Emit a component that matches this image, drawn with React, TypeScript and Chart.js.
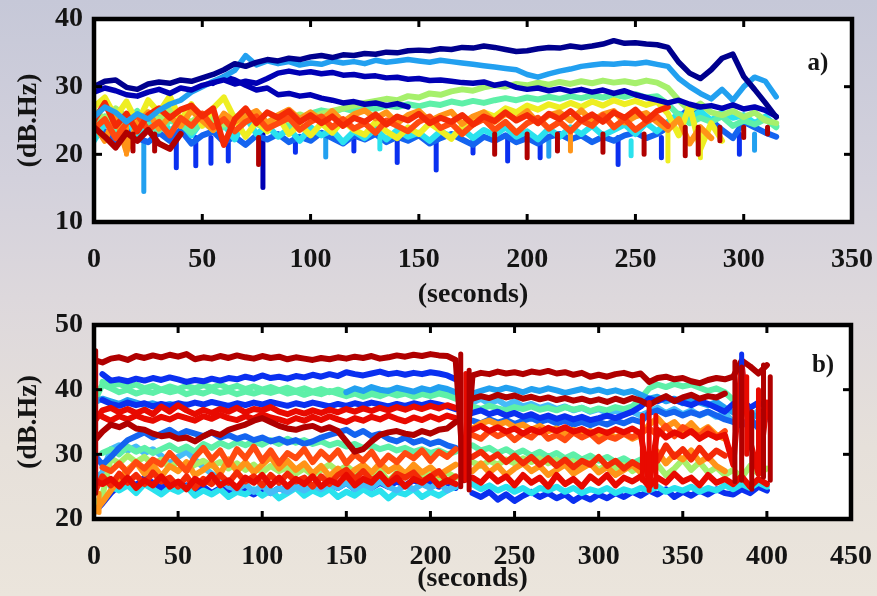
import React, { useEffect, useRef } from "react";
import { Chart, registerables } from "chart.js";

Chart.register(...registerables);

// ---------- Panel a) data (seconds sampled every 5 s, dB.Hz) ----------
const STEP = 5;
const aTicksX = [0, 50, 100, 150, 200, 250, 300, 350];
const aTicksY = [10, 20, 30, 40];

const a1 = [30.0,30.8,31.0,29.9,29.6,30.4,30.7,30.5,31.0,30.8,
  31.3,31.8,32.5,33.4,33.0,33.6,34.0,33.8,34.2,34.0,
  34.4,34.6,34.3,34.7,34.6,34.9,34.8,35.1,35.0,35.3,
  35.4,35.3,35.6,35.5,35.8,35.7,36.0,35.8,35.5,35.2,
  35.3,35.6,35.8,35.7,36.0,35.8,36.0,36.3,36.8,36.4,
  36.5,36.3,36.2,35.8,33.6,32.0,31.2,32.5,34.2,34.8,
  31.5,29.6,27.6,25.5];
const a2 = [25.5,27.0,26.2,24.8,26.0,25.2,26.5,27.4,28.0,29.2,
  30.0,30.8,31.5,32.4,34.6,33.2,33.8,33.4,33.7,33.2,
  33.5,33.3,33.8,33.5,33.7,33.4,33.9,33.6,33.8,34.0,
  33.8,33.6,33.9,33.7,33.5,33.3,33.1,32.9,32.7,32.5,
  31.8,31.4,31.9,32.3,32.6,33.0,33.2,33.4,33.3,33.5,
  33.4,33.6,33.3,33.0,31.2,30.0,29.0,28.2,29.6,28.0,
  30.0,31.4,30.8,28.5];
const a3 = [29.2,29.8,29.4,28.8,28.6,29.2,29.6,29.0,29.8,29.5,
  30.2,30.6,31.0,30.4,30.8,30.5,31.2,32.0,32.3,32.0,
  32.2,31.9,32.1,31.7,31.8,31.5,31.6,31.3,31.4,31.1,
  31.2,30.9,31.0,30.8,30.6,30.5,30.7,30.2,30.5,29.9,
  29.6,29.8,29.4,29.7,29.3,29.6,29.2,29.5,29.0,29.4,
  28.8,28.4,28.0,27.6,28.0,27.4,27.0,27.2,26.8,27.3,
  26.7,27.0,26.5,25.6];
const a4Start = 55;
const a4 = [30.5,31.5,31.0,30.2,29.5,29.8,28.8,29.0,28.6,28.8,
  28.3,28.0,27.6,27.8,27.4,27.6,27.2,27.5,27.0];
const a5 = [26.5,25.2,26.8,25.5,24.6,26.2,25.0,26.6,25.4,24.8,
  26.0,25.1,24.4,25.6,24.9,25.8,24.7,25.5,25.0,25.9,
  25.3,26.0,26.4,26.8,27.2,27.6,27.9,28.2,28.0,28.6,
  28.4,29.0,28.8,29.3,29.6,29.4,29.9,30.2,30.0,30.4,
  30.2,30.6,30.3,30.7,30.4,30.8,30.5,30.9,30.6,30.8,
  30.5,30.9,30.6,29.8,28.0,26.5,27.5,26.2,25.8,26.4,
  25.5,26.2,25.0,24.6];
const a6 = [24.0,25.6,23.8,24.9,26.4,24.2,23.5,25.0,24.4,23.2,
  24.8,25.6,24.0,25.2,26.6,24.5,23.8,25.0,24.2,25.4,
  26.0,26.5,26.2,26.8,26.4,27.0,26.7,27.2,27.0,27.4,
  27.1,27.5,27.3,27.8,27.5,27.9,27.6,28.0,28.3,28.0,
  28.4,28.1,28.5,28.2,28.6,28.3,28.7,28.4,28.8,28.5,
  28.9,28.4,28.6,27.4,25.8,24.6,25.4,24.8,25.6,24.2,
  25.0,24.4,25.2,24.0];
const a7 = [27.0,28.4,25.5,27.8,24.6,28.0,26.2,28.6,25.0,27.4,
  24.2,26.8,28.4,25.2,22.6,24.8,23.4,25.6,23.0,24.4,
  22.8,24.6,23.2,25.0,23.6,22.9,24.8,23.4,22.4,24.0,
  23.0,24.6,23.5,22.3,24.2,25.4,26.2,25.6,26.8,26.2,
  27.2,26.6,27.4,26.9,27.6,27.0,27.8,27.2,28.0,27.4,
  27.9,27.3,27.8,26.0,22.8,27.2,20.8,24.6,22.0];
const a8 = [24.5,22.0,25.8,20.4,24.6,26.2,23.8,25.6,24.2,26.5,
  25.0,23.6,26.0,24.8,25.6,26.4,24.6,25.8,26.6,25.2,
  26.2,25.0,26.4,24.8,25.9,26.5,25.3,26.2,24.6,25.8,
  26.4,24.9,25.7,26.3,24.5,25.6,26.2,24.8,26.0,25.2,
  26.4,24.6,25.8,26.2,25.0,26.5,24.9,25.9,26.4,24.7,
  25.6,26.1,24.8,23.6,25.2,21.6,24.0,22.4];
const a9 = [25.0,27.6,24.2,26.0,23.4,25.8,26.8,25.4,26.6,27.2,
  25.6,26.8,21.4,25.2,26.8,24.6,26.2,25.4,26.4,24.8,
  25.8,24.6,25.6,24.2,25.4,24.8,25.9,24.4,25.6,25.0,
  26.0,24.6,25.4,24.8,25.8,24.4,25.6,24.9,26.2,25.0,
  25.8,24.6,26.0,25.2,26.4,25.0,25.9,24.8,26.2,25.4,
  26.6,25.0,26.4,27.0];
const a10 = [23.8,25.2,22.4,24.6,25.8,23.6,24.8,22.8,25.4,24.2,
  26.0,24.0,25.2,23.4,24.8,25.6,23.8,24.6,25.4,23.6,
  24.8,25.6,24.0,25.2,23.8,24.6,23.2,25.0,24.2,23.4,
  24.8,25.6,23.9,24.6,23.0,24.4,25.2,23.6,24.8,23.2,
  24.6,25.4,23.8,24.8,23.4,25.0,24.2,25.8,24.0,25.2,
  23.6,24.8,25.6,24.2];
const a11 = [22.0,24.6,23.2,25.4,22.6,24.0,26.0,23.4,24.8,22.8,
  25.0,23.6,24.4,22.2,25.6,23.0,24.2,22.6,23.8,22.0,
  24.0,22.8,23.6,21.8,23.4,22.4,23.8,22.2,23.6,22.6,
  23.2,22.0,23.4,22.6,23.8,22.4,23.6,22.8,24.0,22.6,
  23.4,22.2,23.8,22.6,24.0,23.0,24.2,22.8,23.6,24.4,
  23.0,24.6,23.4,24.8,26.0,25.2,26.4,25.0,26.2,25.4,
  25.8,24.6,25.6,24.2];
const a12 = [22.6,23.4,22.0,23.8,22.4,21.8,23.2,22.0,23.6,21.6,
  22.8,23.4,21.8,22.6,21.4,22.8,22.2,23.0,21.8,22.6,
  22.0,23.2,22.4,21.6,22.8,22.2,23.0,21.8,22.6,22.0,
  22.8,21.6,22.4,23.0,22.2,21.4,22.6,22.0,22.8,21.8,
  22.4,21.6,22.6,23.0,22.2,22.8,21.8,22.6,22.0,22.8,
  23.2,22.4,23.0,24.0,25.4,26.8,26.0,25.0,23.6,22.4,
  24.8,24.0,23.2,22.6];
const a13 = [24.0,22.6,21.0,23.2,22.0,23.6,21.6,20.8,23.0];

// dropouts: [seconds, from dB.Hz, to dB.Hz]
const aDropBlue = [[38,22.5,18.0],[47,22.5,18.3],[54,22.5,18.7],[62,22.0,19.0],[93,22.5,20.3],[120,22.4,20.5],[140,22.5,18.8],[158,22.5,17.7],[175,22.4,20.2],[191,22.5,19.0],[206,22.5,19.5],[242,22.5,18.5],[262,22.5,19.5],[298,23.0,20.0]];
const aDropNavy = [[78,23.0,15.1]];
const aDropSky = [[23,22.0,14.5],[107,22.5,19.6],[210,22.5,19.7],[305,23.0,20.6]];
const aDropCyan = [[248,22.0,19.8],[132,22.5,20.8]];
const aDropDark = [[18,23.0,20.5],[28,23.0,20.5],[76,22.5,18.5],[185,23.0,20.0],[200,23.0,19.5],[214,23.0,20.5],[235,23.0,20.3],[254,23.0,20.0],[273,24.0,19.8],[279,24.0,20.0],[289,24.0,22.0],[300,24.0,22.5],[311,24.0,23.0]];
const aDropOrange = [[15,24.0,20.0],[220,23.5,20.5]];
const aDropYellow = [[265,24.0,19.0],[280,24.0,19.5]];

// ---------- Panel b) data ----------
const bTicksX = [0, 50, 100, 150, 200, 250, 300, 350, 400, 450];
const bTicksY = [20, 30, 40, 50];

const b1 = [44.6,44.2,44.8,45.0,44.6,45.2,44.9,45.3,45.0,45.4,
  45.1,45.5,44.7,45.0,44.8,45.2,44.9,45.3,45.0,44.8,
  45.2,44.9,45.1,44.7,45.0,44.8,44.6,44.9,44.7,45.0,
  44.8,45.1,44.9,45.2,44.8,45.0,45.3,45.1,45.4,45.2,
  45.5,45.3,45.2,44.6,26.0,42.2,42.6,42.4,42.8,42.5,
  42.7,42.4,42.8,42.6,42.9,42.5,42.7,42.3,42.6,42.0,
  42.3,42.0,42.4,42.6,42.2,42.5,41.2,41.8,42.0,41.6,
  41.8,41.3,41.0,41.5,41.8,41.6,42.0,44.5,43.6,42.5,
  43.8];
const b2Start = 5;
const b2 = [42.4,41.4,41.6,41.3,41.7,41.4,41.8,41.5,41.9,
  41.6,41.2,41.5,41.3,41.7,41.4,41.8,41.6,42.0,41.7,
  42.2,41.8,42.0,41.7,42.1,41.9,42.3,42.0,42.4,42.1,
  42.7,42.4,42.2,42.5,42.8,42.4,42.6,42.3,42.6,42.4,
  42.7,42.5,42.2,41.6];
const b3 = [38.0,38.6,38.2,37.8,38.4,38.0,37.6,37.9,37.5,37.8,
  37.4,37.7,null,null,null,null,null,null,null,null,
  null,null,null,null,null,null,null,null,null,null,
  39.6,40.2,39.8,40.4,40.0,39.8,40.3,40.0,39.7,40.2,
  39.9,40.4,40.1,39.6,null,39.4,39.8,40.2,39.9,40.3,
  40.0,39.6,40.1,39.8,40.2,39.9,39.5,39.8,40.1,39.7,
  40.0,39.6,39.9,39.5,39.8,39.2,38.6,38.9,38.2,38.6,
  37.9,38.4,38.0,37.6,38.1,37.2,36.5,37.0,36.2,35.8,
  36.4];
const b4 = [38.0,40.8,40.2,39.6,40.0,39.4,39.8,39.5,40.0,39.6,
  39.9,39.3,39.7,39.4,39.9,39.5,39.8,39.3,39.7,39.4,
  39.8,39.5,39.9,39.4,39.7,39.2,39.6,39.3,39.8,39.4,
  39.0,39.4,38.9,39.3,39.0,39.5,39.1,39.4,38.9,39.3,
  39.0,39.4,39.1,38.6,null,37.4,37.0,37.5,37.1,36.8,
  37.3,37.0,37.4,36.9,37.2,36.8,37.3,36.9,37.2,36.7,
  37.1,36.8,37.3,37.0,37.4,38.6,40.2,40.8,40.4,40.9,
  40.5,40.8,40.3,39.8,40.2,39.6,38.4];
const b4bStart = 5;
const b4b = [41.2,40.6,40.9,40.4,40.8,40.2,40.6,40.0,40.5,
  40.1,40.6,40.2,40.7,40.3,40.8,40.2,40.6,40.1,40.5,
  40.0,40.4,39.9,40.3,39.8,40.2,39.7,40.1,39.6,40.0,
  39.5,39.9,39.4,39.8,39.5,39.9,39.4,39.8,39.3,39.7,
  39.4,39.8,39.2,38.8];
const b5Start = 5;
const b5 = [38.4,37.8,37.5,38.0,37.6,37.9,37.4,37.8,37.5,
  37.9,37.6,38.0,37.7,38.1,37.8,37.5,37.9,37.6,38.0,
  37.7,38.1,37.8,37.5,37.9,37.6,38.0,37.7,37.4,37.8,
  37.5,37.9,37.6,38.0,37.7,37.4,37.8,37.5,37.9,37.6,
  38.0,37.7,37.4,37.0,null,36.4,36.8,36.2,36.6,36.0,
  36.4,35.8,36.2,35.6,36.0,35.5,35.9,35.4,35.8,35.3,
  35.6,36.0,35.6,36.1,36.6,37.4,38.6,38.2,38.8,38.4,
  38.0,37.6,38.2,37.8,37.2,36.6,37.8,38.4,37.2,38.0,
  37.4];
const b6 = [35.0,36.8,37.2,36.5,37.0,36.4,36.9,36.2,37.4,36.6,
  37.6,36.8,36.2,36.9,36.4,37.0,36.6,37.2,36.5,37.0,
  36.8,37.3,36.6,36.2,36.7,36.3,36.8,36.4,36.9,36.5,
  37.0,36.6,37.1,36.7,37.2,36.8,37.3,36.9,37.4,37.0,
  37.5,37.1,37.6,37.2,null,33.8,34.4,33.6,34.2,33.5,
  34.0,33.2,33.9,33.4,34.1,33.6,34.2,33.5,33.9,33.2,
  33.8,33.3,33.9,33.4,34.0,33.2,25.5,33.8,32.6,33.4,
  32.8,33.6,32.4,33.2,32.6,33.0,28.4,44.0,32.0,27.0,
  38.0];
const b6bStart = 5;
const b6b = [35.8,35.2,35.9,35.4,36.0,35.5,35.2,35.8,35.4,
  36.0,35.6,35.2,35.9,35.5,36.1,35.6,35.3,35.9,35.5,
  36.2,35.7,35.4,35.0,35.6,35.2,35.8,35.3,35.9,35.4,
  35.0,35.6,35.2,35.8,35.4,36.0,35.5,35.1,35.7,35.3,
  35.9,35.4,36.0,35.6];
const b7 = [32.0,33.5,34.6,34.2,34.8,34.0,33.8,33.2,32.8,33.0,
  32.4,32.6,32.0,32.8,33.4,33.0,33.8,34.2,34.6,35.2,
  35.6,35.0,34.4,34.0,33.8,34.2,34.4,33.8,34.2,33.6,
  32.0,30.4,30.8,32.0,33.0,33.4,33.6,33.2,33.0,33.6,
  33.2,33.8,34.0,35.0,null,38.6,39.0,38.7,39.2,38.8,
  39.1,38.6,38.9,38.5,38.8,38.4,38.7,38.3,38.6,38.2,
  38.5,38.1,38.6,38.2,38.7,38.3,37.6,38.4,39.0,38.2,
  38.8,39.2,38.6,39.0,38.8,39.4];
const b8 = [30.0,28.4,29.6,31.0,32.2,32.8,33.4,32.6,33.2,33.8,
  33.0,33.6,33.2,32.8,33.4,32.6,33.0,32.4,32.8,32.2,
  32.6,32.0,32.4,31.8,32.2,31.6,32.0,32.6,33.0,33.4,
  33.8,33.0,33.6,32.8,33.2,32.4,32.0,32.6,31.8,32.2,
  31.6,32.0,31.4,31.0,null,35.2,34.8,35.4,34.9,35.3,
  34.7,35.2,35.6,35.0,35.4,34.8,35.2,34.6,35.0,34.5,
  35.0,34.6,35.2,34.8,35.4,35.0,36.4,36.8,36.2,36.6,
  36.0,36.5,36.1,36.6,36.0,35.4,35.0,34.4,35.6,34.0,
  36.0];
const b9Start = 5;
const b9 = [30.2,30.8,30.0,31.2,30.4,31.0,30.2,30.8,31.4,
  30.6,31.2,30.4,31.6,31.0,31.8,31.2,31.9,31.4,32.0,
  31.5,32.2,31.6,32.4,31.8,32.2,31.6,32.0,31.4,31.8,
  31.2,31.6,31.0,31.4,30.8,31.2,30.6,31.0,30.4,30.8,
  30.2,30.6,30.0,30.4,null,31.4,30.6,31.0,30.2,30.8,
  30.0,30.6,29.8,30.4,29.6,30.2,29.4,30.0,29.2,29.8,
  29.0,29.6,28.8,29.4,28.6,29.2];
const b10 = [22.0,23.6,29.4,28.6,29.8,28.8,29.6,28.4,29.2,28.0,
  28.8,27.6,28.4,29.0,28.2,28.8,27.8,28.6,27.6,28.4,
  27.2,28.2,27.4,28.0,27.0,27.8,26.8,27.6,28.4,27.4,
  28.2,27.2,28.0,26.6,27.6,25.8,27.2,26.4,27.4,26.2,
  27.0,26.0,27.2,26.4,null,28.8,28.2,29.0,28.4,29.2,
  28.6,29.4,28.8,29.6,28.6,29.2,28.4,29.0,28.2,28.8,
  27.6,28.4,27.8,28.6,27.4,28.2,27.0,28.4,26.8,27.8,
  29.2,27.6,28.8,27.2,28.0,26.8,27.6,26.4,28.2,27.0,
  27.8];
const b11 = [26.0,27.2,30.8,31.4,30.6,31.2,30.2,30.8,29.8,28.6,
  29.6,30.4,29.2,28.0,27.0,26.2,25.0,24.6,25.4,24.2,
  25.2,24.0,24.8,24.2,25.0,24.4,25.2,24.6,25.4,24.8,
  25.6,24.6,25.4,24.8,25.8,25.0,24.4,25.2,24.6,25.4,
  24.8,25.6,24.4,25.2,null,38.0,38.6,37.8,38.4,37.6,
  38.2,37.4,37.8,37.2,37.6,37.0,37.4,36.8,37.2,36.6,
  37.0,36.4,36.8,36.2,36.6,36.0,36.6,37.2,36.4,37.0,
  36.2,36.8,36.0,36.6,35.8,36.4,35.0,37.0,35.6,36.8,
  35.4];
const b12Start = 5;
const b12 = [28.0,27.4,28.6,27.2,28.8,27.8,29.2,28.4,30.2,
  28.8,27.4,29.6,31.0,29.2,30.6,28.4,30.8,29.4,31.2,
  29.0,30.6,28.6,30.2,29.4,30.8,28.8,30.4,29.2,30.6,
  28.6,30.0,29.0,30.4,28.4,29.8,28.8,30.2,29.4,30.6,
  29.0,30.4,29.6,30.8,null,33.0,32.4,33.6,32.8,33.4,
  32.2,33.2,32.6,33.8,32.4,33.0,32.2,33.4,32.6,33.2,
  32.0,32.8,32.4,33.2,32.6,33.4,34.0,33.0,34.4,32.8,
  34.2,33.4,32.8,34.0,32.6,33.6];
const b13 = [21.0,22.6,24.4,26.2,27.6,28.8,27.0,28.4,26.6,28.2,
  27.4,28.8,26.8,27.6,28.6,27.0,29.2,27.4,28.8,27.2,
  28.4,29.6,27.8,29.0,27.6,28.6,27.0,28.2,26.6,27.8,
  26.4,27.6,28.4,27.2,28.6,27.4,28.2,27.0,28.4,27.2,
  28.0,26.8,27.6,28.4,null,34.0,34.8,35.2,34.6,35.0,
  34.2,34.6,33.8,34.4,33.6,34.0,33.2,33.8,33.0,33.6,
  32.8,33.4,32.6,33.2,32.4,33.0,34.6,35.6,34.2,35.0,
  33.6,34.8,33.4,34.2,33.0,32.4];
const b14Start = 225;
const b14 = [27.4,28.6,27.2,28.2,26.8,27.8,28.6,27.4,28.2,26.8,
  27.6,28.4,27.0,27.8,28.6,27.2,28.0,26.8,27.6,28.4,
  27.2,29.0,30.4,28.6,30.0,29.2,30.6,28.8,29.6,28.2,
  27.4];
const b15 = [26.0,25.4,26.2,25.0,26.4,24.8,26.0,25.2,26.6,25.0,
  25.8,24.6,26.2,25.4,26.8,25.2,26.0,24.8,26.4,25.6,
  26.8,25.2,26.4,25.0,26.2,25.4,26.6,25.0,26.0,25.4,
  26.8,25.2,26.2,25.6,27.0,25.4,26.4,25.0,26.2,25.6,
  26.6,25.2,26.0,25.4,null,26.4,25.6,27.0,25.8,26.6,
  25.2,26.8,25.6,26.4,25.0,26.8,25.4,26.2,25.0,26.6,
  25.6,26.8,25.2,26.4,25.8,26.6,25.0,26.4,25.6,27.0,
  25.8,26.4,25.2,26.8,25.6,26.2,25.4,26.6,25.0,26.2,
  25.4];
const b16 = [24.0,26.6,25.2,27.0,25.6,26.8,25.4,27.2,25.8,26.4,
  25.0,26.6,24.8,26.2,25.4,26.8,25.6,27.2,25.8,26.6,
  25.2,26.8,25.6,27.0,25.8,26.4,25.0,26.6,25.4,26.8,
  27.6,26.2,27.4,26.0,26.8,25.6,27.0,26.4,27.2,25.8,
  26.6,27.4,25.8,26.6,null,29.6,30.4,29.2,30.0,28.8,
  29.8,28.6,29.6,28.4,29.4,28.2,29.2,28.0,29.0,28.4,
  29.6,28.2,29.0,27.8,28.8,28.0,30.2,29.0,31.4,29.6,
  30.8,29.2,31.0,29.4,30.6,29.8];
const b17Start = 10;
const b17 = [25.0,24.4,25.2,24.0,25.4,24.6,23.8,24.8,
  24.2,25.0,23.6,24.4,23.8,24.6,23.4,24.2,23.8,24.6,
  23.6,24.4,23.2,24.0,24.8,23.6,24.4,23.8,24.6,23.4,
  24.2,23.6,24.6,23.8,24.4,23.2,24.2,23.8,24.6,23.4,
  24.2,23.6,24.4,25.0,null,25.4,24.6,25.2,24.4,25.0,
  24.2,24.8,24.0,24.8,24.4,25.0,24.2,24.8,24.0,24.6,
  24.2,24.8,24.0,24.6,24.2,24.8,24.4,25.0,24.2,24.8,
  24.4,25.0,24.2,24.8,24.4,25.2,24.6,25.4,24.8,25.6,
  25.0];
const b18 = [21.0,22.4,24.0,25.2,26.0,25.2,26.4,25.6,24.8,25.4,
  24.6,25.2,24.4,25.0,24.0,24.8,24.2,25.0,24.4,23.8,
  24.6,24.0,24.8,24.2,25.0,24.4,25.2,24.6,25.4,24.8,
  25.6,24.6,25.2,24.8,25.6,25.0,25.8,25.2,26.0,25.4,
  25.8,25.0,25.6,24.8,null,24.0,23.4,24.2,23.0,23.8,
  22.8,23.6,24.2,23.4,24.0,23.2,23.8,22.8,23.6,23.0,
  23.8,23.2,24.0,23.4,24.2,23.6,24.4,23.8,24.6,23.4,
  24.2,23.6,24.4,23.8,24.6,24.0,23.8,24.6,24.0,25.0,
  24.4];

const bDropDark = [[1,46.0,24.0],[218,45.5,25.0],[223,43.0,24.5],[381,44.3,25.8],[385,43.5,26.0],[391,36.6,24.6],[398,43.8,26.5],[402,42.0,26.0]];
const bDropRed = [[221,42.5,26.0],[326,36.0,26.0],[330,38.0,24.4],[334,36.0,25.0],[388,42.0,30.0],[395,40.0,27.0]];
const bDropBlue = [[385,45.5,38.0]];
const bDropOrange = [[3,24.0,21.0]];

// ---------- colours (jet-like) ----------
const C = {
  navy: "#00008e",
  navy2: "#0000b4",
  blue: "#0a30f0",
  mblue: "#1464f0",
  sky: "#22a0f0",
  lsky: "#46bcf8",
  cyan: "#2ae2ee",
  mint: "#5ef0a8",
  lgreen: "#a6f06c",
  yellow: "#eeee22",
  orange: "#ff9418",
  rorange: "#ff4a10",
  red: "#f42a06",
  red2: "#e80a00",
  dred: "#b00000",
};

const FONT = '"Liberation Serif", "Times New Roman", serif';
const LINE_W = 6;
const TOP_W = 5.5;

function seq(values: (number | null)[], start = 0) {
  return values.map((y, i) => ({ x: start + i * STEP, y }));
}
function drops(list: number[][]) {
  const out: { x: number; y: number | null }[] = [];
  for (const [t, top, bottom] of list) {
    out.push({ x: t, y: top }, { x: t, y: bottom }, { x: t, y: null });
  }
  return out;
}
function ds(data: any[], color: string, width = LINE_W) {
  return {
    data,
    borderColor: color,
    backgroundColor: color,
    borderWidth: width,
    pointRadius: 0,
    tension: 0,
    spanGaps: false,
    fill: false,
    borderJoinStyle: "round" as const,
    borderCapStyle: "round" as const,
  };
}

const framePlugin = {
  id: "frame",
  beforeDatasetsDraw(chart: any) {
    const { ctx, chartArea: a } = chart;
    ctx.save();
    ctx.fillStyle = "#ffffff";
    ctx.fillRect(a.left, a.top, a.right - a.left, a.bottom - a.top);
    ctx.restore();
  },
  afterDatasetsDraw(chart: any, _args: any, opts: any) {
    const { ctx, chartArea: a, scales } = chart;
    ctx.save();
    ctx.strokeStyle = "#000";
    ctx.lineCap = "butt";
    ctx.lineWidth = 3;
    const line = (x1: number, y1: number, x2: number, y2: number) => {
      ctx.beginPath();
      ctx.moveTo(x1, y1);
      ctx.lineTo(x2, y2);
      ctx.stroke();
    };
    for (const t of scales.x.ticks) {
      const px = scales.x.getPixelForValue(t.value);
      line(px, a.bottom, px, a.bottom - 8);
      line(px, a.top, px, a.top + 8);
    }
    for (const t of scales.y.ticks) {
      const py = scales.y.getPixelForValue(t.value);
      line(a.left, py, a.left + 8, py);
      line(a.right, py, a.right - 8, py);
    }
    ctx.lineWidth = 4.5;
    ctx.strokeRect(a.left, a.top, a.right - a.left, a.bottom - a.top);
    ctx.fillStyle = "#151515";
    ctx.font = `bold 25px ${FONT}`;
    ctx.textAlign = "center";
    ctx.textBaseline = "middle";
    ctx.fillText(opts.label, a.right + opts.dx, a.top + opts.dy);
    ctx.restore();
  },
};

function makeOptions(xMax: number, yMin: number, yMax: number, xTickVals: number[], yTickVals: number[], label: string, dx: number, dy: number, padTop: number, padRight: number, xHeight: number) {
  const font = { family: FONT, size: 28, weight: "bold" as const };
  return {
    responsive: false,
    animation: false as const,
    devicePixelRatio: 1,
    events: [],
    layout: { padding: { top: padTop, right: padRight, left: 0, bottom: 0 } },
    plugins: {
      legend: { display: false },
      tooltip: { enabled: false },
      frame: { label, dx, dy },
    },
    scales: {
      x: {
        type: "linear" as const,
        min: 0,
        max: xMax,
        afterBuildTicks: (s: any) => { s.ticks = xTickVals.map((v) => ({ value: v })); },
        afterFit: (s: any) => { s.height = xHeight; s.paddingLeft = 0; s.paddingRight = 0; },
        ticks: { font, color: "#141414", padding: 21, maxRotation: 0, autoSkip: false },
        grid: { display: false, drawTicks: false },
        border: { display: false },
        title: { display: true, text: "(seconds)", font, color: "#141414", padding: { top: 0, bottom: 0 } },
      },
      y: {
        type: "linear" as const,
        min: yMin,
        max: yMax,
        afterBuildTicks: (s: any) => { s.ticks = yTickVals.map((v) => ({ value: v })); },
        afterFit: (s: any) => { s.width = 94; s.paddingTop = 0; s.paddingBottom = 0; },
        ticks: { font, color: "#141414", padding: 11 },
        grid: { display: false, drawTicks: false },
        border: { display: false },
        title: { display: true, text: "(dB.Hz)", font, color: "#141414", padding: { top: 12, bottom: 0 } },
      },
    },
  };
}

function PanelA() {
  const ref = useRef<HTMLCanvasElement | null>(null);
  useEffect(() => {
    if (!ref.current) return;
    const chart = new Chart(ref.current, {
      type: "line",
      data: {
        datasets: [
          ds(seq(a1), C.navy, TOP_W),
          ds(seq(a3), C.navy2, TOP_W),
          ds(seq(a2), C.sky, TOP_W),
          ds(seq(a4, a4Start), C.navy2, TOP_W),
          ds(seq(a13), C.dred),
          ds(drops(aDropDark), C.dred, 5),
          ds(seq(a9), C.red),
          ds(seq(a10), C.rorange),
          ds(seq(a8), C.orange),
          ds(drops(aDropOrange), C.orange, 5),
          ds(seq(a7), C.yellow),
          ds(drops(aDropYellow), C.yellow, 5),
          ds(seq(a5), C.lgreen),
          ds(seq(a6), C.mint),
          ds(seq(a11), C.cyan),
          ds(drops(aDropCyan), C.cyan, 5),
          ds(seq(a12), C.mblue),
          ds(drops(aDropBlue), C.blue, 5),
          ds(drops(aDropNavy), C.navy2, 5),
          ds(drops(aDropSky), C.sky, 5),
        ],
      },
      options: makeOptions(350, 10, 40, aTicksX, aTicksY, "a)", -34, 45, 19, 25, 90) as any,
      plugins: [framePlugin],
    });
    return () => chart.destroy();
  }, []);
  return <canvas ref={ref} width={877} height={312} style={{ position: "absolute", left: 0, top: 0 }} />;
}

function PanelB() {
  const ref = useRef<HTMLCanvasElement | null>(null);
  useEffect(() => {
    if (!ref.current) return;
    const chart = new Chart(ref.current, {
      type: "line",
      data: {
        datasets: [
          ds(drops(bDropDark), C.dred, 5),
          ds(drops(bDropRed), C.red2, 5),
          ds(drops(bDropBlue), C.blue, 5),
          ds(seq(b1), C.dred),
          ds(seq(b7), C.dred),
          ds(seq(b6), C.red2),
          ds(seq(b6b, b6bStart), C.red2),
          ds(seq(b15), C.red2),
          ds(seq(b16), C.red),
          ds(seq(b12, b12Start), C.rorange),
          ds(seq(b13), C.orange),
          ds(seq(b14, b14Start), C.orange),
          ds(drops(bDropOrange), C.orange, 5),
          ds(seq(b2, b2Start), C.blue),
          ds(seq(b5, b5Start), C.blue),
          ds(seq(b8), C.mblue),
          ds(seq(b3), C.sky),
          ds(seq(b4), C.mint),
          ds(seq(b4b, b4bStart), C.mint),
          ds(seq(b9, b9Start), C.mint),
          ds(seq(b10), C.lgreen),
          ds(seq(b11), C.lsky),
          ds(seq(b17, b17Start), C.cyan),
          ds(seq(b18), C.blue),
        ],
      },
      options: makeOptions(450, 20, 50, bTicksX, bTicksY, "b)", -28, 41, 25, 26, 77) as any,
      plugins: [framePlugin],
    });
    return () => chart.destroy();
  }, []);
  return <canvas ref={ref} width={877} height={296} style={{ position: "absolute", left: 0, top: 300 }} />;
}

export default function App() {
  return (
    <div
      style={{
        position: "fixed",
        left: 0,
        top: 0,
        width: 877,
        height: 596,
        overflow: "hidden",
        background: "linear-gradient(180deg, #c6c8d8 0%, #d3d1dc 30%, #ddd8dc 50%, #e6e0da 75%, #ebe5dc 100%)",
      }}
    >
      <PanelA />
      <PanelB />
    </div>
  );
}
